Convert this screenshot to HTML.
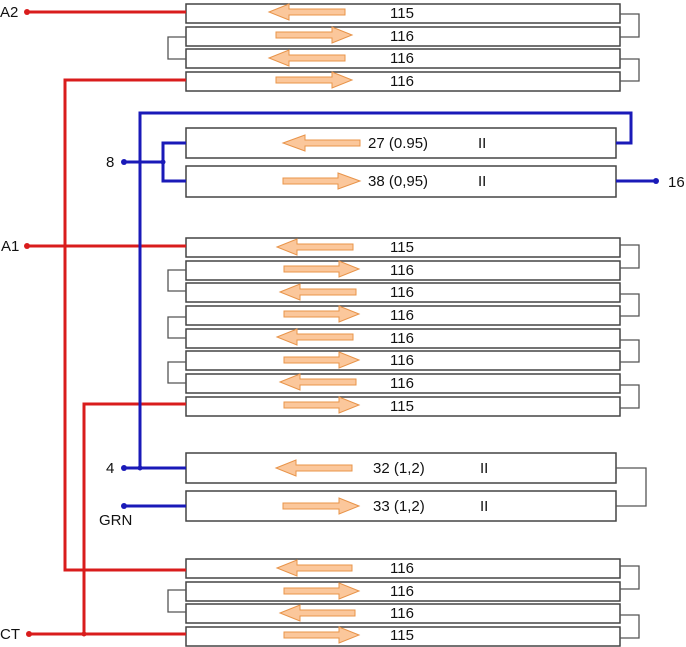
<!DOCTYPE html>
<html><head><meta charset="utf-8"><style>
html,body{margin:0;padding:0;background:#fff;}
svg{display:block;font-family:"Liberation Sans",sans-serif;}
.b{fill:#fff;stroke:#444;stroke-width:1.5}
.c{fill:none;stroke:#555;stroke-width:1.3}
.a{fill:#fbc79b;stroke:#e8944a;stroke-width:1}
.r{stroke:#d91c1c;stroke-width:3;fill:none}
.u{stroke:#1a1ab8;stroke-width:3;fill:none}
.rd{fill:#d91c1c}.ud{fill:#1a1ab8}
text{font-size:15px;fill:#111}
</style></head><body>
<svg width="686" height="647" viewBox="0 0 686 647">
<!-- top group -->
<rect class="b" x="186" y="4" width="434" height="19"/>
<rect class="b" x="186" y="27" width="434" height="19"/>
<rect class="b" x="186" y="49" width="434" height="19"/>
<rect class="b" x="186" y="72" width="434" height="19"/>
<path class="c" d="M620 14H639V37H620M186 37H168V59H186M620 59H639V81H620"/>
<polygon class="a" points="269,12 289,4 289,9 345,9 345,15 289,15 289,20"/>
<polygon class="a" points="352,35 332,27 332,32 276,32 276,38 332,38 332,43"/>
<polygon class="a" points="269,58 289,50 289,55 345,55 345,61 289,61 289,66"/>
<polygon class="a" points="352,80 332,72 332,77 276,77 276,83 332,83 332,88"/>
<text x="402" y="18" text-anchor="middle">115</text>
<text x="402" y="41" text-anchor="middle">116</text>
<text x="402" y="63" text-anchor="middle">116</text>
<text x="402" y="86" text-anchor="middle">116</text>

<!-- blue group 1 -->
<rect class="b" x="186" y="128" width="430" height="30"/>
<rect class="b" x="186" y="166" width="430" height="31"/>
<polygon class="a" points="283,143 305,135 305,140 360,140 360,146 305,146 305,151"/>
<polygon class="a" points="360,181 338,173 338,178 283,178 283,184 338,184 338,189"/>
<text x="368" y="148">27 (0.95)</text><text x="478" y="148">II</text>
<text x="368" y="186">38 (0,95)</text><text x="478" y="186">II</text>

<!-- middle group -->
<rect class="b" x="186" y="238" width="434" height="19"/>
<rect class="b" x="186" y="261" width="434" height="19"/>
<rect class="b" x="186" y="283" width="434" height="19"/>
<rect class="b" x="186" y="306" width="434" height="19"/>
<rect class="b" x="186" y="329" width="434" height="19"/>
<rect class="b" x="186" y="351" width="434" height="19"/>
<rect class="b" x="186" y="374" width="434" height="19"/>
<rect class="b" x="186" y="397" width="434" height="19"/>
<path class="c" d="M620 245H639V268H620M186 270H168V291H186M620 294H639V316H620M186 317H168V338H186M620 340H639V362H620M186 362H168V383H186M620 385H639V408H620"/>
<polygon class="a" points="277,247 297,239 297,244 353,244 353,250 297,250 297,255"/>
<polygon class="a" points="359,269 339,261 339,266 284,266 284,272 339,272 339,277"/>
<polygon class="a" points="280,292 300,284 300,289 356,289 356,295 300,295 300,300"/>
<polygon class="a" points="359,314 339,306 339,311 284,311 284,317 339,317 339,322"/>
<polygon class="a" points="277,337 297,329 297,334 353,334 353,340 297,340 297,345"/>
<polygon class="a" points="359,360 339,352 339,357 284,357 284,363 339,363 339,368"/>
<polygon class="a" points="280,382 300,374 300,379 356,379 356,385 300,385 300,390"/>
<polygon class="a" points="359,405 339,397 339,402 284,402 284,408 339,408 339,413"/>
<text x="402" y="252" text-anchor="middle">115</text>
<text x="402" y="275" text-anchor="middle">116</text>
<text x="402" y="297" text-anchor="middle">116</text>
<text x="402" y="320" text-anchor="middle">116</text>
<text x="402" y="343" text-anchor="middle">116</text>
<text x="402" y="365" text-anchor="middle">116</text>
<text x="402" y="388" text-anchor="middle">116</text>
<text x="402" y="411" text-anchor="middle">115</text>

<!-- blue group 2 -->
<rect class="b" x="186" y="453" width="430" height="30"/>
<rect class="b" x="186" y="491" width="430" height="30"/>
<path class="c" d="M616 468H646V506H616"/>
<polygon class="a" points="276,468 296,460 296,465 352,465 352,471 296,471 296,476"/>
<polygon class="a" points="359,506 339,498 339,503 283,503 283,509 339,509 339,514"/>
<text x="373" y="473">32 (1,2)</text><text x="480" y="473">II</text>
<text x="373" y="511">33 (1,2)</text><text x="480" y="511">II</text>

<!-- bottom group -->
<rect class="b" x="186" y="559" width="434" height="19"/>
<rect class="b" x="186" y="582" width="434" height="19"/>
<rect class="b" x="186" y="604" width="434" height="19"/>
<rect class="b" x="186" y="627" width="434" height="19"/>
<path class="c" d="M620 566H639V589H620M186 590H168V612H186M620 615H639V638H620"/>
<polygon class="a" points="277,568 297,560 297,565 352,565 352,571 297,571 297,576"/>
<polygon class="a" points="359,591 339,583 339,588 284,588 284,594 339,594 339,599"/>
<polygon class="a" points="280,613 300,605 300,610 355,610 355,616 300,616 300,621"/>
<polygon class="a" points="359,635 339,627 339,632 284,632 284,638 339,638 339,643"/>
<text x="402" y="573" text-anchor="middle">116</text>
<text x="402" y="596" text-anchor="middle">116</text>
<text x="402" y="618" text-anchor="middle">116</text>
<text x="402" y="640" text-anchor="middle">115</text>

<!-- red wires -->
<path class="r" d="M27 12H186"/>
<path class="r" d="M186 80H65V570H186"/>
<path class="r" d="M27 246H186"/>
<path class="r" d="M186 404H84V634"/>
<path class="r" d="M29 634H186"/>
<circle class="rd" cx="27" cy="12" r="3"/>
<circle class="rd" cx="27" cy="246" r="3"/>
<circle class="rd" cx="29" cy="634" r="3"/>
<circle class="rd" cx="84" cy="634" r="2.5"/>
<text x="0" y="17">A2</text>
<text x="1" y="251">A1</text>
<text x="0" y="639">CT</text>

<!-- blue wires -->
<path class="u" d="M140 468V113H631V143H616"/>
<path class="u" d="M124 162H163M186 143H163V181H186"/>
<path class="u" d="M616 181H656"/>
<path class="u" d="M124 468H186"/>
<path class="u" d="M124 506H186"/>
<circle class="ud" cx="124" cy="162" r="3"/>
<circle class="ud" cx="163" cy="162" r="2.5"/>
<circle class="ud" cx="656" cy="181" r="3"/>
<circle class="ud" cx="124" cy="468" r="3"/>
<circle class="ud" cx="140" cy="468" r="2.5"/>
<circle class="ud" cx="124" cy="506" r="3"/>
<text x="106" y="167">8</text>
<text x="668" y="187">16</text>
<text x="106" y="473">4</text>
<text x="99" y="525">GRN</text>
</svg>
</body></html>
